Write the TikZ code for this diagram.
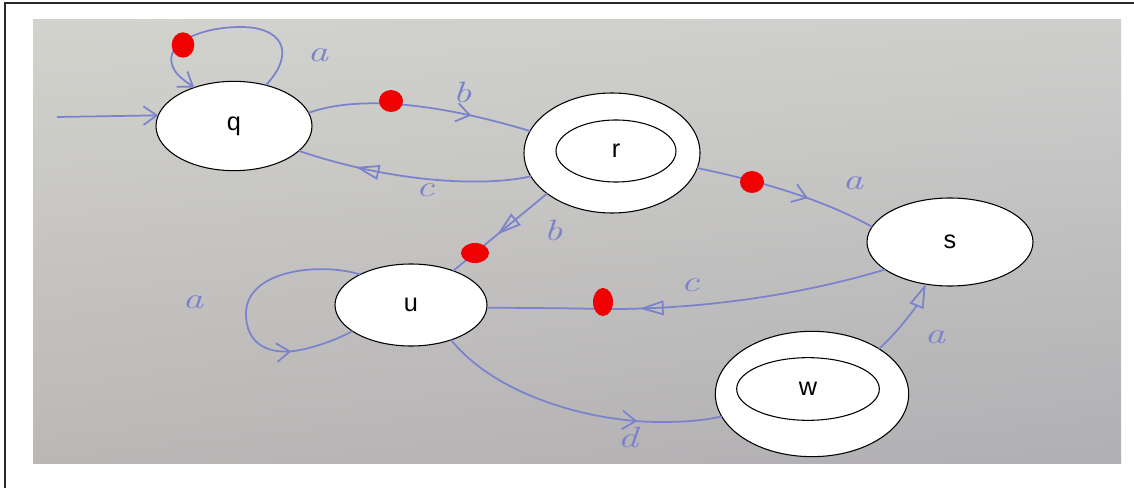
\documentclass[tikz,border=0pt]{standalone}
\usepackage{fontspec}
\newfontfamily\statefont{Liberation Sans}
\usetikzlibrary{shapes.geometric,arrows.meta,decorations.markings,shadings}
\definecolor{ink}{RGB}{122,130,205}
\definecolor{dotred}{RGB}{240,0,0}
\definecolor{bgA}{RGB}{210,211,205}
\definecolor{bgB}{RGB}{206,207,205}
\definecolor{bgC}{RGB}{187,183,183}
\definecolor{bgD}{RGB}{176,175,178}
\definecolor{framecol}{RGB}{40,40,40}
\newcommand\handw[1]{\scalebox{1.4}[1]{#1}}
\tikzset{
  chev/.tip={Straight Barb[length=10pt,width=14pt]},
  tri/.tip={Triangle[open,length=18pt,width=11pt]},
}
\begin{document}
\begin{tikzpicture}[x=0.75pt,y=-0.75pt,
  state/.style={ellipse,draw=black,line width=0.8pt,fill=white,inner sep=0pt,outer sep=0pt,font=\statefont\fontsize{19}{19}\selectfont},
  edge/.style={draw=ink,color=ink,line width=1.3pt},
  lbl/.style={text=ink,font=\fontsize{22}{22}\selectfont\itshape},
  rdot/.style={ellipse,fill=dotred,inner sep=0pt,outer sep=0pt},
  mchev/.style={postaction={decorate,decoration={markings,mark=at position #1 with {\arrow{chev}}}}},
  mtri/.style={postaction={decorate,decoration={markings,mark=at position #1 with {\arrow{tri}}}}},
]
\useasboundingbox (0,0) rectangle (1134,488);
\fill[white] (0,0) rectangle (1134,488);
\shade[upper left=bgA,upper right=bgB,lower left=bgC,lower right=bgD] (33,20) rectangle (1121,463);
\draw[framecol,line width=1.6pt] (5,488) -- (5,3) -- (1134,3);

% states
\node[state,minimum width=117pt,minimum height=67pt] (q) at (234,126) {q};
\node[state,minimum width=132pt,minimum height=90pt] (r) at (612,153) {};
\node[state,minimum width=90pt,minimum height=46.5pt] (rin) at (616,151) {r};
\node[state,minimum width=124.5pt,minimum height=66pt] (s) at (950,242) {s};
\node[state,minimum width=114pt,minimum height=61.5pt] (u) at (411,305) {u};
\node[state,minimum width=145pt,minimum height=94pt] (w) at (812,394) {};
\node[state,minimum width=107pt,minimum height=47pt] (win) at (808,389) {w};

% edges
\coordinate (init) at (57,117);
\draw[edge,-{chev}] (init) -- (q.172);
\draw[edge,-{chev}] (q.52) .. controls (297,52) and (282,26) .. (238,27)
   .. controls (196,28) and (166,45) .. (172,64) .. controls (174,72) and (179,77) .. (q.136);
\draw[edge,mchev=0.73] (q.10) .. controls (350,98) and (420,98) .. (r.165);
\draw[edge,mtri=0.75] (r.196) .. controls (490,186) and (400,185) .. (q.-21);
\draw[edge,mchev=0.62] (r.-10) .. controls (745,178) and (815,195) .. (s.169);
\draw[edge,mtri=0.53] (r.212) -- (u.39);
\draw[edge,mchev=0.76] (u.149) .. controls (320,262) and (248,270) .. (246,312)
   .. controls (245,345) and (270,356) .. (300,350) .. controls (320,346) and (340,338) .. (u.204);
\draw[edge,mtri=0.62] (s.203) .. controls (800,295) and (700,310) .. (600,309)
   .. controls (560,308) and (520,308) .. (u.-2);
\draw[edge,mchev=0.71] (u.-41) .. controls (495,395) and (590,422) .. (660,422)
   .. controls (690,422) and (705,420) .. (w.194);
\draw[edge,-{tri}] (w.34) .. controls (900,330) and (917,305) .. (s.240);

% red dots
\node[rdot,minimum width=17pt,minimum height=19pt] (d1) at (183,45) {};
\node[rdot,minimum width=18pt,minimum height=16.5pt] (d2) at (391,101) {};
\node[rdot,minimum width=18pt,minimum height=16.5pt] (d3) at (752,182) {};
\node[rdot,minimum width=21pt,minimum height=15pt] (d4) at (475,253) {};
\node[rdot,minimum width=15pt,minimum height=21pt] (d5) at (603,302) {};

% labels
\node[lbl] (l1) at (318,55) {\handw{a}};
\node[lbl] (l2) at (462,92) {\handw{b}};
\node[lbl] (l3) at (425,190) {\handw{c}};
\node[lbl] (l4) at (853,183) {\handw{a}};
\node[lbl] (l5) at (553,230) {\handw{b}};
\node[lbl] (l6) at (193,302) {\handw{a}};
\node[lbl] (l7) at (690,285) {\handw{c}};
\node[lbl] (l8) at (628,437) {\handw{d}};
\node[lbl] (l9) at (935,337) {\handw{a}};
\end{tikzpicture}
\end{document}
